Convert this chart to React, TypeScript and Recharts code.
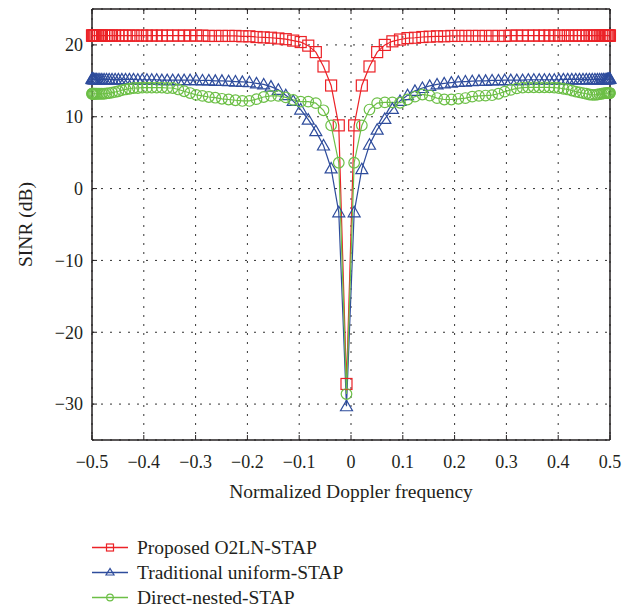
import React from "react";
import { CartesianGrid, Legend, Line, LineChart, XAxis, YAxis } from "recharts";

// Normalized Doppler frequency grid (denser towards the edges)
const fd = [
  -0.5, -0.4996, -0.4988, -0.4975, -0.4958, -0.4937, -0.4911, -0.4882, -0.4847, -0.4809,
  -0.4766, -0.4719, -0.4668, -0.4613, -0.4553, -0.449, -0.4423, -0.4352, -0.4277, -0.4198,
  -0.4116, -0.403, -0.394, -0.3847, -0.3751, -0.3651, -0.3548, -0.3442, -0.3333, -0.3221,
  -0.3106, -0.2988, -0.2868, -0.2745, -0.262, -0.2492, -0.2363, -0.2231, -0.2097, -0.1962,
  -0.1824, -0.1686, -0.1545, -0.1403, -0.126, -0.1116, -0.0971, -0.0825, -0.0679, -0.0531,
  -0.0384, -0.0236, -0.0087, 0.0061, 0.0209, 0.0357, 0.0505, 0.0653, 0.0799, 0.0946,
  0.1091, 0.1235, 0.1378, 0.152, 0.1661, 0.18, 0.1938, 0.2073, 0.2208, 0.234,
  0.247, 0.2598, 0.2723, 0.2846, 0.2967, 0.3085, 0.3201, 0.3313, 0.3423, 0.3529,
  0.3633, 0.3733, 0.383, 0.3924, 0.4014, 0.4101, 0.4184, 0.4263, 0.4339, 0.4411,
  0.4479, 0.4543, 0.4603, 0.4658, 0.471, 0.4758, 0.4801, 0.4841, 0.4876, 0.4906,
  0.4933, 0.4955, 0.4973, 0.4986, 0.4995, 0.4999,
];

// SINR (dB) per method
const proposed = [
  21.3, 21.3, 21.3, 21.3, 21.3, 21.3, 21.3, 21.3, 21.3, 21.3,
  21.3, 21.3, 21.3, 21.3, 21.3, 21.3, 21.3, 21.3, 21.3, 21.3,
  21.3, 21.3, 21.3, 21.3, 21.3, 21.3, 21.3, 21.3, 21.3, 21.3,
  21.3, 21.3, 21.3, 21.25, 21.25, 21.25, 21.25, 21.25, 21.2, 21.2,
  21.1, 21.05, 21.0, 20.9, 20.8, 20.6, 20.4, 19.9, 19.0, 17.0,
  14.35, 8.8, -27.2, 8.8, 14.35, 17.0, 19.0, 20.0, 20.5, 20.75,
  20.95, 21.0, 21.1, 21.15, 21.2, 21.2, 21.25, 21.25, 21.25, 21.25,
  21.25, 21.25, 21.25, 21.25, 21.25, 21.3, 21.3, 21.3, 21.3, 21.3,
  21.3, 21.3, 21.3, 21.3, 21.3, 21.3, 21.3, 21.3, 21.3, 21.3,
  21.3, 21.3, 21.3, 21.3, 21.3, 21.3, 21.3, 21.3, 21.3, 21.3,
  21.3, 21.3, 21.3, 21.3, 21.3, 21.3,
];

const uniform = [
  15.3, 15.3, 15.25, 15.25, 15.2, 15.2, 15.2, 15.2, 15.2, 15.2,
  15.2, 15.2, 15.2, 15.2, 15.2, 15.2, 15.2, 15.2, 15.2, 15.2,
  15.15, 15.15, 15.15, 15.15, 15.15, 15.1, 15.1, 15.1, 15.1, 15.1,
  15.1, 15.1, 15.05, 15.05, 15.0, 15.0, 14.95, 14.9, 14.85, 14.8,
  14.65, 14.5, 14.2, 13.75, 13.0, 12.2, 11.0, 9.6, 8.0, 6.0,
  2.8, -3.3, -30.3, -3.3, 2.7, 6.1, 8.2, 9.7, 11.1, 12.2,
  13.0, 13.6, 14.0, 14.3, 14.5, 14.65, 14.75, 14.85, 14.9, 14.95,
  15.0, 15.0, 15.05, 15.05, 15.1, 15.1, 15.1, 15.1, 15.15, 15.15,
  15.15, 15.15, 15.15, 15.15, 15.15, 15.2, 15.2, 15.2, 15.2, 15.2,
  15.2, 15.2, 15.2, 15.2, 15.2, 15.2, 15.2, 15.2, 15.2, 15.2,
  15.2, 15.25, 15.25, 15.3, 15.3, 15.3,
];

const nested = [
  13.2, 13.2, 13.2, 13.2, 13.2, 13.2, 13.2, 13.2, 13.2, 13.2,
  13.2, 13.25, 13.3, 13.35, 13.45, 13.55, 13.7, 13.8, 13.9, 14.0,
  14.0, 14.05, 14.05, 14.05, 14.05, 14.05, 14.0, 14.0, 13.8, 13.55,
  13.3, 13.05, 12.9, 12.75, 12.65, 12.5, 12.4, 12.3, 12.2, 12.2,
  12.45, 12.75, 12.9, 12.9, 12.7, 12.35, 12.1, 12.1, 11.9, 10.9,
  8.8, 3.6, -28.6, 3.6, 8.8, 11.0, 11.9, 12.0, 12.0, 11.95,
  12.4, 12.8, 13.1, 12.95, 12.6, 12.4, 12.4, 12.5, 12.6, 12.8,
  12.9, 12.95, 13.0, 13.2, 13.5, 13.75, 13.95, 14.05, 14.1, 14.1,
  14.1, 14.1, 14.1, 14.05, 14.0, 13.9, 13.8, 13.65, 13.5, 13.4,
  13.3, 13.2, 13.1, 13.05, 13.05, 13.1, 13.15, 13.2, 13.25, 13.3,
  13.3, 13.3, 13.3, 13.3, 13.3, 13.3,
];

const xTicks = [-0.5, -0.4, -0.3, -0.2, -0.1, 0, 0.1, 0.2, 0.3, 0.4, 0.5];
const yTicks = [-30, -20, -10, 0, 10, 20];

const RED = "#ec2227";
const BLUE = "#2e4c9c";
const GREEN = "#6cbf46";
const INK = "#231f20";
// no serif faces in the sandbox, the stack falls through to the default
const FONT = "'Liberation Serif', 'Times New Roman', serif";

const series = [
  { key: "proposed", name: "Proposed O2LN-STAP", color: RED, shape: "square" },
  { key: "uniform", name: "Traditional uniform-STAP", color: BLUE, shape: "triangle" },
  { key: "nested", name: "Direct-nested-STAP", color: GREEN, shape: "circle" },
];

const rows = fd.map((x, i) => ({
  fd: x,
  proposed: proposed[i],
  uniform: uniform[i],
  nested: nested[i],
}));

function Marker({ shape, cx, cy, color, size }: any) {
  if (cx == null || cy == null) return null;
  const h = size / 2;
  if (shape === "square") {
    return <rect x={cx - h} y={cy - h} width={size} height={size} fill="none" stroke={color} strokeWidth={1.2} />;
  }
  if (shape === "triangle") {
    const pts = `${cx},${cy - h - 0.5} ${cx - h - 0.5},${cy + h - 1} ${cx + h + 0.5},${cy + h - 1}`;
    return <polygon points={pts} fill="none" stroke={color} strokeWidth={1.2} />;
  }
  return <circle cx={cx} cy={cy} r={h - 0.2} fill="none" stroke={color} strokeWidth={1.2} />;
}

const fmtTick = (v: number) => (v < 0 ? `\u2212${Math.abs(v)}` : `${v}`);

function LegendBlock() {
  return (
    <div style={{ height: 76, paddingLeft: 92, fontFamily: FONT, fontSize: 19.5, color: INK }}>
      {series.map((s) => (
        <div key={s.key} style={{ height: 25, display: "flex", alignItems: "center" }}>
          <svg width={36} height={25} style={{ flex: "none" }}>
            <line x1={0} x2={36} y1={12.5} y2={12.5} stroke={s.color} strokeWidth={1.3} />
            <Marker shape={s.shape} cx={18} cy={12.5} color={s.color} size={7} />
          </svg>
          <span style={{ marginLeft: 9, whiteSpace: "nowrap", lineHeight: "25px" }}>{s.name}</span>
        </div>
      ))}
    </div>
  );
}

export default function App() {
  return (
    <div style={{ width: 624, height: 612, background: "#fff", fontFamily: FONT }}>
      <style>{"body{margin:0}"}</style>
      <LineChart
        width={624}
        height={612}
        data={rows}
        margin={{ top: 8, right: 13, bottom: 1, left: 0 }}
        style={{ fontFamily: FONT }}
      >
        <CartesianGrid
          xAxisId="bottom"
          yAxisId="left"
          stroke="#333"
          strokeDasharray="2 7"
          strokeWidth={1}
        />
        <XAxis
          xAxisId="bottom"
          dataKey="fd"
          type="number"
          domain={[-0.5, 0.5]}
          ticks={xTicks}
          tickFormatter={fmtTick}
          tickSize={-5}
          tickMargin={20}
          height={95}
          tick={{ fill: INK, fontSize: 18, fontFamily: FONT }}
          axisLine={{ stroke: INK, strokeWidth: 1.5 }}
          tickLine={{ stroke: INK }}
          label={{
            value: "Normalized Doppler frequency",
            position: "insideTop",
            offset: 44,
            style: { fill: INK, fontSize: 19.5, fontFamily: FONT },
          }}
        />
        <XAxis
          xAxisId="top"
          orientation="top"
          dataKey="fd"
          type="number"
          domain={[-0.5, 0.5]}
          ticks={xTicks}
          tickFormatter={() => ""}
          tickSize={-5}
          height={1}
          axisLine={{ stroke: INK, strokeWidth: 1.5 }}
          tickLine={{ stroke: INK }}
        />
        <YAxis
          yAxisId="left"
          type="number"
          domain={[-35, 25]}
          ticks={yTicks}
          tickFormatter={fmtTick}
          tickSize={-5}
          tickMargin={14}
          width={92}
          tick={{ fill: INK, fontSize: 18, fontFamily: FONT }}
          axisLine={{ stroke: INK, strokeWidth: 1.5 }}
          tickLine={{ stroke: INK }}
          label={{
            value: "SINR (dB)",
            angle: -90,
            position: "insideLeft",
            offset: 25,
            style: { fill: INK, fontSize: 19.5, textAnchor: "middle", fontFamily: FONT },
          }}
        />
        <YAxis
          yAxisId="right"
          orientation="right"
          type="number"
          domain={[-35, 25]}
          ticks={yTicks}
          tickFormatter={() => ""}
          tickSize={-5}
          width={1}
          axisLine={{ stroke: INK, strokeWidth: 1.5 }}
          tickLine={{ stroke: INK }}
        />
        <Legend
          verticalAlign="bottom"
          align="left"
          layout="horizontal"
          content={() => <LegendBlock />}
        />
        {series.map((s) => (
          <Line
            key={s.key}
            xAxisId="bottom"
            yAxisId="left"
            type="linear"
            dataKey={s.key}
            name={s.name}
            stroke={s.color}
            strokeWidth={1.2}
            isAnimationActive={false}
            activeDot={false}
            dot={(p: any) => (
              <Marker key={`${s.key}-${p.index}`} shape={s.shape} cx={p.cx} cy={p.cy} color={s.color} size={11} />
            )}
          />
        ))}
      </LineChart>
    </div>
  );
}
